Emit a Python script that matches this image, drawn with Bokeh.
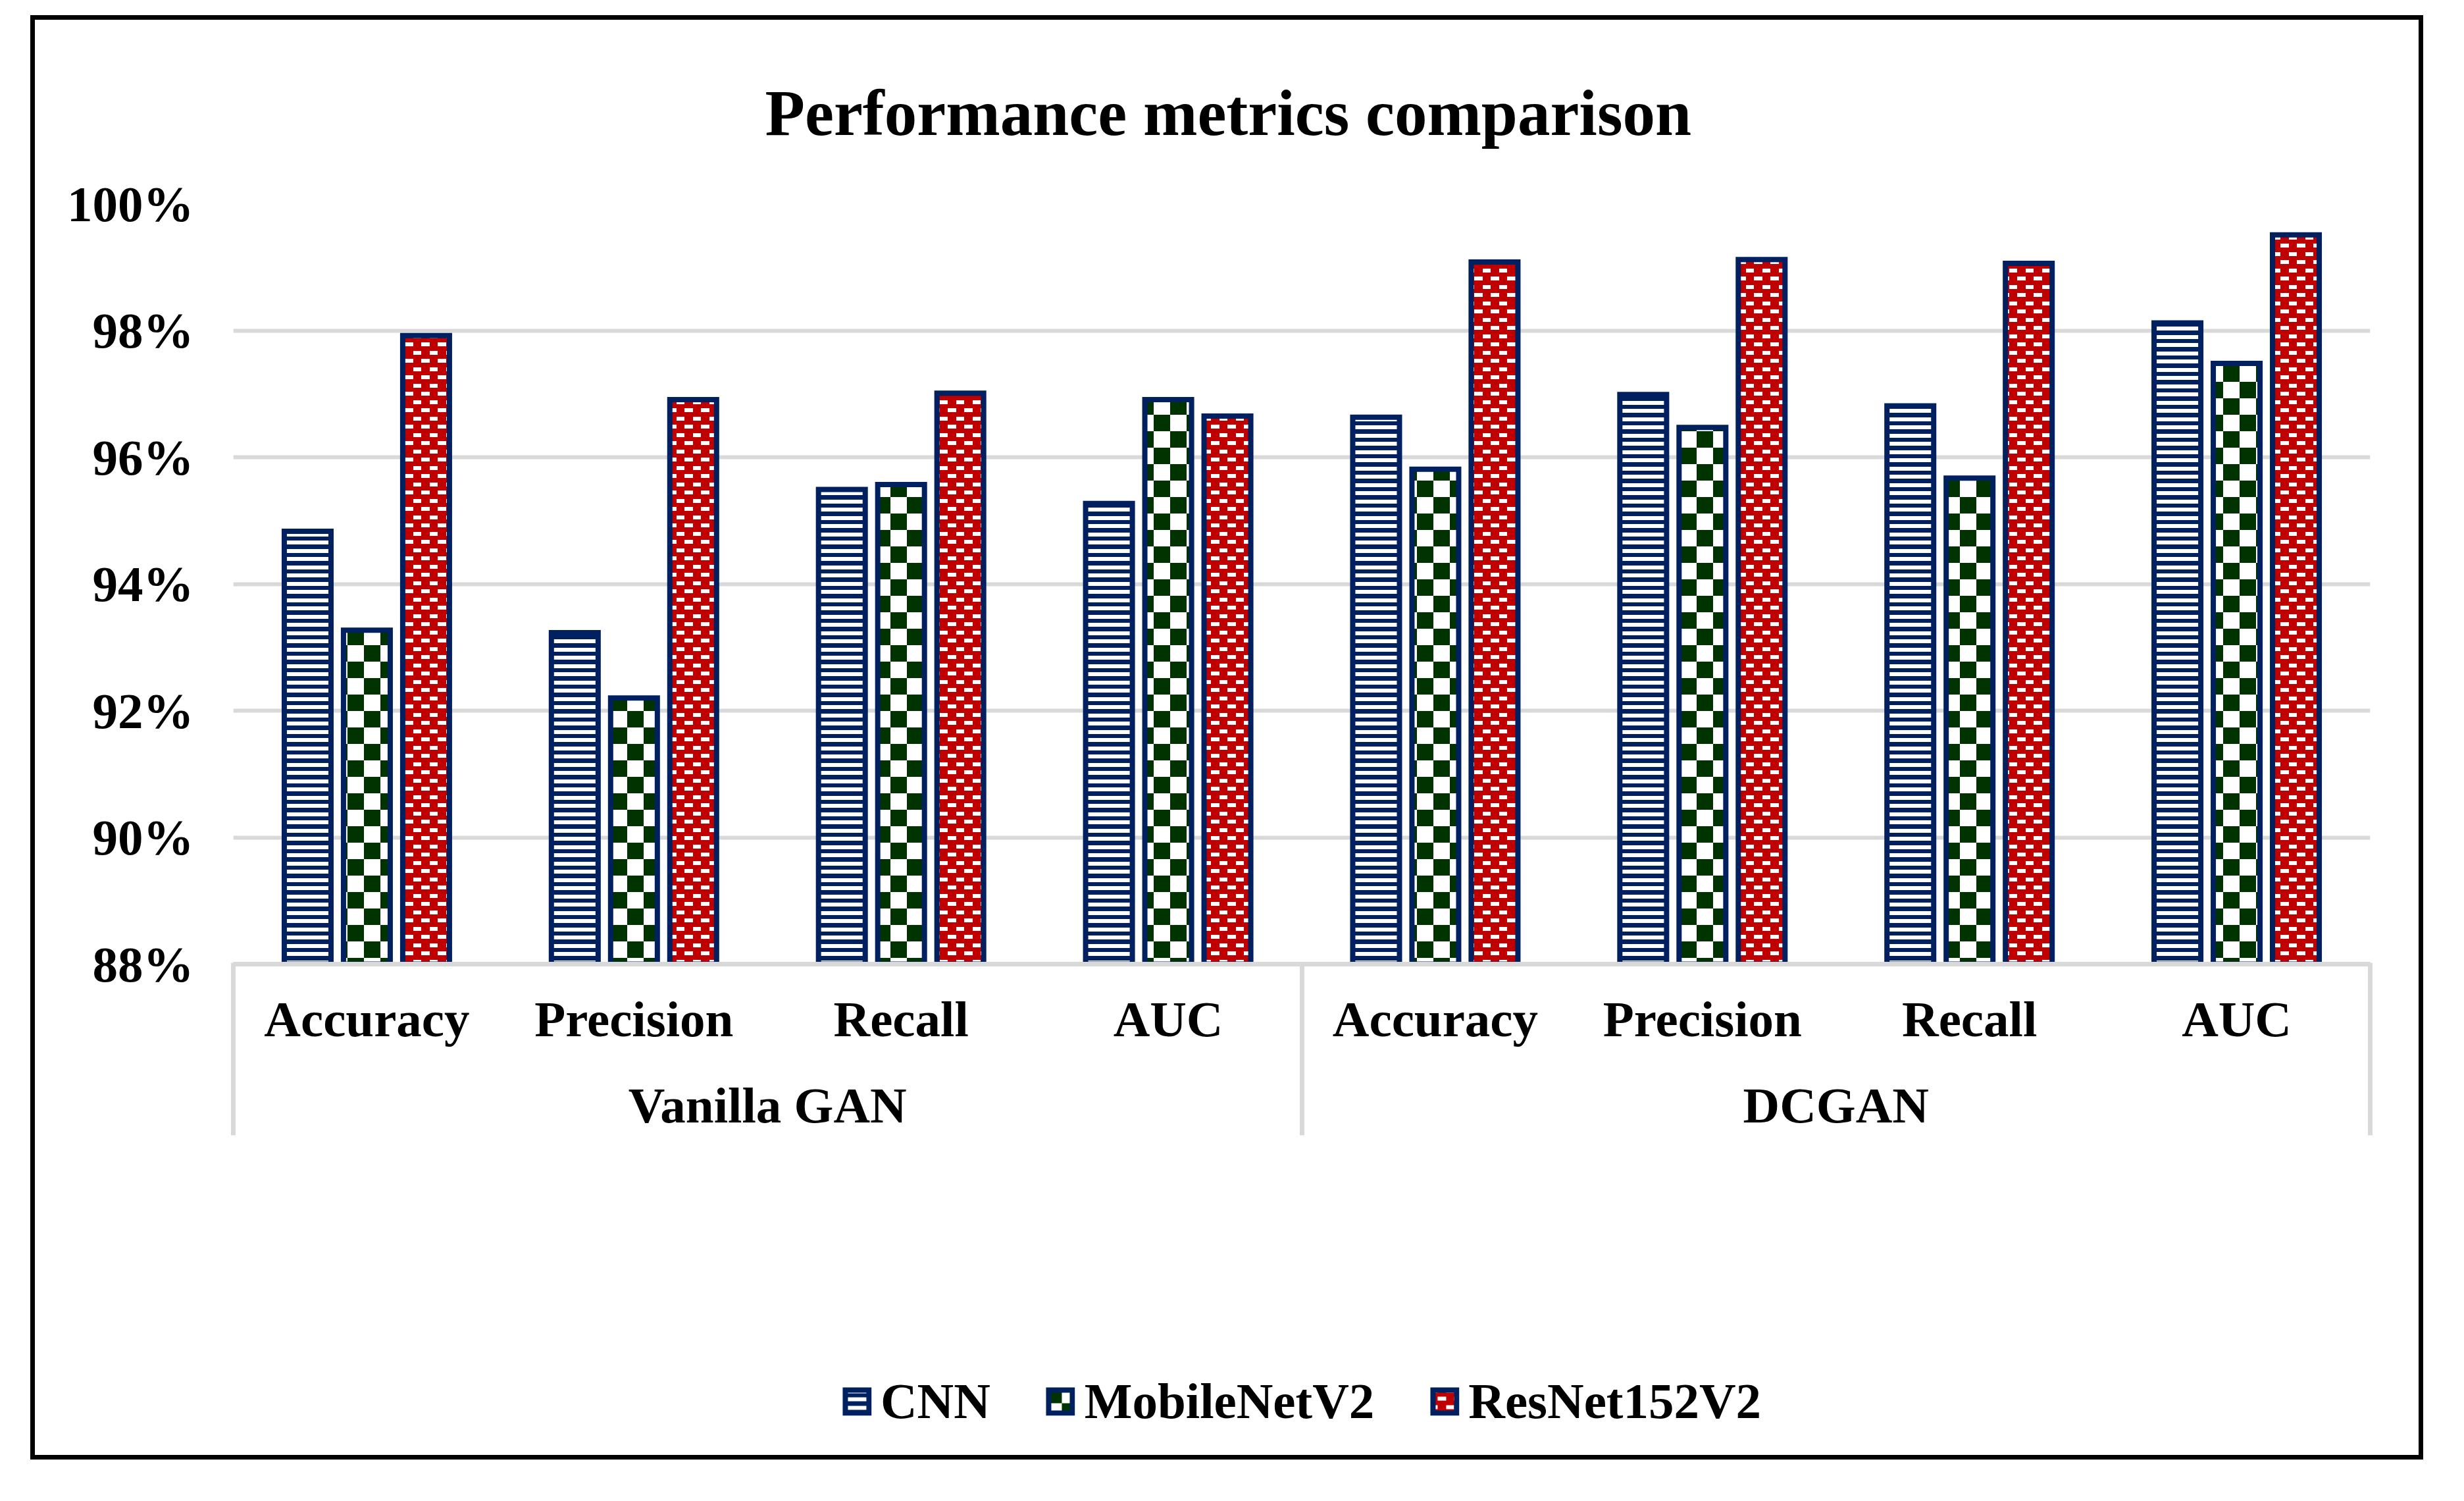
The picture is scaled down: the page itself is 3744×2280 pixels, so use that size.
import base64
import struct
import zlib

from bokeh.embed import file_html
from bokeh.resources import INLINE
from bokeh.plotting import figure
from bokeh.core.properties import value
from bokeh.models import (FactorRange, Range1d, ColumnDataSource, Legend, LegendItem,
                          CategoricalAxis, LinearAxis, FixedTicker, PrintfTickFormatter,
                          ImageURLTexture)
from bokeh.transform import dodge

# ---------------- data ----------------
title_text = "Performance metrics comparison"
groups = ["Vanilla GAN", "DCGAN"]
metrics = ["Accuracy", "Precision", "Recall", "AUC"]
series = ["CNN", "MobileNetV2", "ResNet152V2"]
cnn = [94.83, 93.23, 95.49, 95.27, 96.63, 96.99, 96.81, 98.12]
mobilenet = [93.27, 92.20, 95.57, 96.91, 95.81, 96.47, 95.67, 97.48]
resnet = [97.92, 96.91, 97.01, 96.65, 99.08, 99.12, 99.06, 99.51]
y_ticks = [88, 90, 92, 94, 96, 98, 100]

FONT = "Liberation Serif"
NAVY = "#002060"
GREEN = "#003300"
RED = "#C00000"
GRID = "#D9D9D9"

# layout (pixels)
WIDTH, HEIGHT = 3636, 2194
LB, RB, TB, BB = 301, 88, 272, 487


def png_url(w, h, fn):
    rows = []
    for yy in range(h):
        row = bytearray([0])
        for xx in range(w):
            row.extend(fn(xx, yy))
        rows.append(bytes(row))
    raw = b"".join(rows)

    def chunk(t, d):
        return struct.pack(">I", len(d)) + t + d + struct.pack(">I", zlib.crc32(t + d) & 0xffffffff)

    png = (b"\x89PNG\r\n\x1a\n"
           + chunk(b"IHDR", struct.pack(">IIBBBBB", w, h, 8, 2, 0, 0, 0))
           + chunk(b"IDAT", zlib.compress(raw))
           + chunk(b"IEND", b""))
    return "data:image/png;base64," + base64.b64encode(png).decode()


def rgb(hexc):
    hexc = hexc.lstrip("#")
    return tuple(int(hexc[i:i + 2], 16) for i in (0, 2, 4))


W = (255, 255, 255)
tex_cnn = png_url(25, 25, lambda x, y: W if (y % 25) in (4, 5, 6, 7, 8, 9, 16, 17, 18, 19, 20, 21) else rgb(NAVY))
tex_mob = png_url(50, 50, lambda x, y: rgb(GREEN) if ((x // 25) + (y // 25)) % 2 == 0 else W)


def red_fn(x, y):
    if 3 <= y <= 8 and 0 <= x <= 11:
        return W
    if 15 <= y <= 20 and 12 <= x <= 24:
        return W
    return rgb(RED)


tex_res = png_url(25, 25, red_fn)

factors = [(g, m) for g in groups for m in metrics]
source = ColumnDataSource(data=dict(x=factors, cnn=cnn, mobilenet=mobilenet, resnet=resnet))

p = figure(
    x_range=FactorRange(*factors, factor_padding=0, group_padding=0, range_padding=0),
    y_range=Range1d(y_ticks[0], y_ticks[-1]),
    width=WIDTH, height=HEIGHT,
    output_backend="svg", toolbar_location=None,
    min_border_left=LB, min_border_right=RB, min_border_top=TB, min_border_bottom=BB,
)
p.styles = {"border": "7px solid black"}
p.margin = (23, 0, 0, 46)
p.outline_line_color = None
p.background_fill_color = "white"
p.border_fill_color = "white"

# title
p.title.text = title_text
p.title.text_font = FONT
p.title.text_font_style = "bold"
p.title.text_font_size = "99px"
p.title.text_color = "black"
p.title.align = "left"
p.title.offset = 808
p.title.standoff = 168

# bars
off = 0.2217
bw = 0.175
common = dict(source=source, width=bw, bottom=0, line_color=NAVY, line_width=8, line_join="miter")
r1 = p.vbar(x=dodge("x", -off, range=p.x_range), top="cnn", fill_color=NAVY,
            hatch_pattern=value("cnn"), hatch_extra={"cnn": ImageURLTexture(url=tex_cnn, repetition="repeat")},
            **common)
r2 = p.vbar(x=dodge("x", 0, range=p.x_range), top="mobilenet", fill_color=GREEN,
            hatch_pattern=value("mob"), hatch_extra={"mob": ImageURLTexture(url=tex_mob, repetition="repeat")},
            **common)
r3 = p.vbar(x=dodge("x", off, range=p.x_range), top="resnet", fill_color=RED,
            hatch_pattern=value("res"), hatch_extra={"res": ImageURLTexture(url=tex_res, repetition="repeat")},
            **common)

# y axis
p.yaxis.ticker = FixedTicker(ticks=y_ticks)
p.yaxis.formatter = PrintfTickFormatter(format="%d%%")
p.yaxis.major_label_text_font = FONT
p.yaxis.major_label_text_font_style = "bold"
p.yaxis.major_label_text_font_size = "77px"
p.yaxis.major_label_text_color = "black"
p.yaxis.major_label_standoff = 60
p.yaxis.major_tick_line_color = None
p.yaxis.minor_tick_line_color = None
p.yaxis.axis_line_color = None
p.yaxis.major_tick_in = 0
p.yaxis.major_tick_out = 0

p.ygrid.ticker = FixedTicker(ticks=y_ticks)
p.ygrid.grid_line_color = GRID
p.ygrid.grid_line_width = 6
p.xgrid.grid_line_color = None

# x axis: metric labels
xa = p.xaxis[0]
xa.major_label_text_font = FONT
xa.major_label_text_font_style = "bold"
xa.major_label_text_font_size = "77px"
xa.major_label_text_color = "black"
xa.group_text_font_size = "1px"
xa.group_text_color = None
xa.separator_line_color = None
xa.major_tick_line_color = None
xa.minor_tick_line_color = None
xa.major_tick_in = 0
xa.major_tick_out = 0
xa.major_label_standoff = 40
xa.axis_line_color = GRID
xa.axis_line_width = 7

# x axis: group labels
p.extra_x_ranges = {"groups": FactorRange(*groups, factor_padding=0, range_padding=0)}
ga = CategoricalAxis(x_range_name="groups")
ga.major_label_text_font = FONT
ga.major_label_text_font_style = "bold"
ga.major_label_text_font_size = "77px"
ga.major_label_text_color = "black"
ga.major_tick_line_color = None
ga.major_tick_in = 0
ga.major_tick_out = 0
ga.axis_line_color = None
ga.major_label_standoff = 42
p.add_layout(ga, "below")

# x axis: group separators (group boundaries in the factor range's synthetic coordinates)
edges = [i * len(metrics) for i in range(len(groups) + 1)]
ea = LinearAxis(ticker=FixedTicker(ticks=edges))
ea.major_label_text_font_size = "1px"
ea.major_label_text_color = None
ea.major_label_standoff = 0
ea.axis_line_color = None
ea.minor_tick_line_color = None
ea.major_tick_line_color = GRID
ea.major_tick_line_width = 7
ea.major_tick_out = 0
ea.major_tick_in = 262
p.add_layout(ea, "below")

# legend (below the axes)
legend = Legend(
    items=[LegendItem(label=series[0], renderers=[r1]),
           LegendItem(label=series[1], renderers=[r2]),
           LegendItem(label=series[2], renderers=[r3])],
    orientation="horizontal", location="center",
    label_text_font=FONT, label_text_font_style="bold", label_text_font_size="77px",
    label_text_color="black",
    glyph_width=45, glyph_height=44, label_standoff=14, spacing=84,
    padding=0, margin=0, border_line_color=None, background_fill_alpha=0,
)
p.add_layout(legend, "below")

open("out.html", "w").write(file_html(p, INLINE))
